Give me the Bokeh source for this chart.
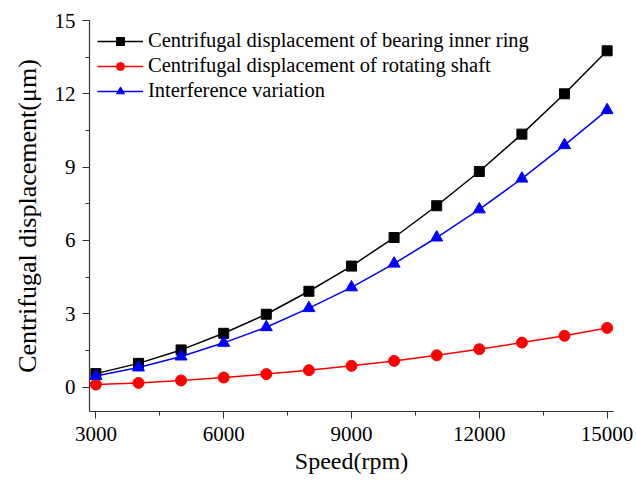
from bokeh.plotting import figure
from bokeh.models import Range1d, Legend, LegendItem, FixedTicker
from bokeh.embed import file_html
from bokeh.resources import INLINE

speed = [3000, 4000, 5000, 6000, 7000, 8000, 9000, 10000, 11000, 12000, 13000, 14000, 15000]
inner_ring = [0.55, 0.97, 1.52, 2.20, 2.98, 3.92, 4.95, 6.12, 7.42, 8.82, 10.35, 12.00, 13.76]
shaft = [0.10, 0.17, 0.27, 0.39, 0.53, 0.69, 0.87, 1.07, 1.30, 1.55, 1.82, 2.10, 2.42]
interference = [0.45, 0.80, 1.25, 1.81, 2.45, 3.23, 4.08, 5.05, 6.12, 7.27, 8.53, 9.90, 11.33]
x_ticks = [3000, 6000, 9000, 12000, 15000]
y_ticks = [0, 3, 6, 9, 12, 15]
labels = ["Centrifugal displacement of bearing inner ring",
          "Centrifugal displacement of rotating shaft",
          "Interference variation"]

FONT = "Liberation Serif"

p = figure(width=636, height=480, output_backend="svg", toolbar_location=None,
           x_range=Range1d(2850, 15150), y_range=Range1d(-1, 15),
           min_border_left=89, min_border_right=23, min_border_top=20, min_border_bottom=69)
p.outline_line_color = None
p.grid.visible = False
p.background_fill_color = "white"

r1l = p.line(speed, inner_ring, line_color="black", line_width=1.5)
r1m = p.scatter(speed, inner_ring, marker="square", size=10, color="black")
r2l = p.line(speed, shaft, line_color="#ff0000", line_width=1.5)
r2m = p.scatter(speed, shaft, marker="circle", size=11, color="#ff0000")
r3l = p.line(speed, interference, line_color="#0000ff", line_width=1.5)
r3m = p.scatter(speed, interference, marker="triangle", size=12, color="#0000ff")

for ax in (p.xaxis[0], p.yaxis[0]):
    ax.axis_line_color = "#333333"
    ax.axis_line_width = 1.2
    ax.major_tick_line_color = "#333333"
    ax.minor_tick_line_color = "#333333"
    ax.major_tick_out = 7
    ax.major_tick_in = 0
    ax.minor_tick_out = 4
    ax.minor_tick_in = 0
    ax.major_label_text_font = FONT
    ax.major_label_text_font_size = "21px"
    ax.major_label_text_color = "black"
    ax.axis_label_text_font = FONT
    ax.axis_label_text_font_style = "normal"
    ax.axis_label_text_color = "black"

p.xaxis[0].axis_label_text_font_size = "24px"
p.yaxis[0].axis_label_text_font_size = "26px"
p.xaxis[0].ticker = FixedTicker(ticks=x_ticks, minor_ticks=[4500, 7500, 10500, 13500])
p.yaxis[0].ticker = FixedTicker(ticks=y_ticks, minor_ticks=[1.5, 4.5, 7.5, 10.5, 13.5])
p.xaxis[0].axis_label = "Speed(rpm)"
p.yaxis[0].axis_label = "Centrifugal displacement(μm)"
p.xaxis[0].major_label_standoff = 8
p.yaxis[0].major_label_standoff = 7
p.xaxis[0].axis_label_standoff = 4
p.yaxis[0].axis_label_standoff = 10

legend = Legend(items=[LegendItem(label=labels[0], renderers=[r1l, r1m]),
                       LegendItem(label=labels[1], renderers=[r2l, r2m]),
                       LegendItem(label=labels[2], renderers=[r3l, r3m])],
                location=(8, 309))
legend.label_text_font = FONT
legend.label_text_font_size = "20.5px"
legend.label_text_color = "black"
legend.border_line_color = None
legend.background_fill_alpha = 0
legend.glyph_width = 46
legend.glyph_height = 20
legend.label_height = 20
legend.spacing = 2
legend.label_standoff = 5
legend.padding = 0
legend.margin = 0
p.add_layout(legend, "center")

open("out.html", "w").write(file_html(p, INLINE))
